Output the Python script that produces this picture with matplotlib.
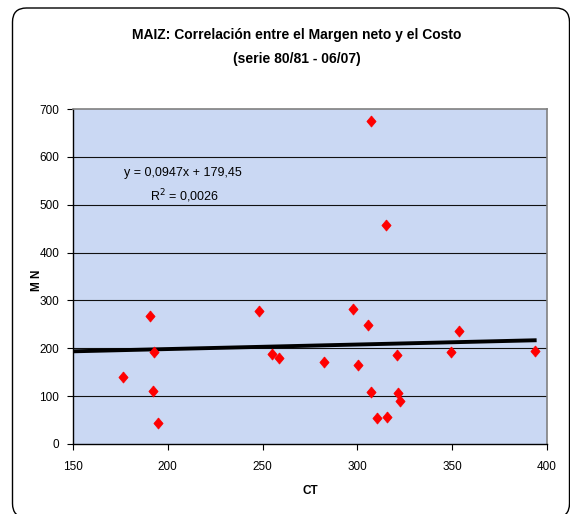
import numpy as np
import matplotlib
matplotlib.use('Agg')
import matplotlib.pyplot as plt
from matplotlib.patches import FancyBboxPatch

plt.rcParams['font.family'] = ['Liberation Sans', 'DejaVu Sans']

# costo total (CT) y margen neto (MN) por campaña
ct = [176.5, 190.6, 192.6, 192.4, 194.7, 247.9, 254.8, 258.5, 282.6, 297.7,
      305.6, 300.2, 320.7, 307.2, 321.6, 322.3, 310.3, 315.6, 349.5, 353.8,
      393.5, 307.0, 315.2]
mn = [139, 267, 193, 111, 43, 278, 188, 180, 172, 282,
      248, 166, 187, 108, 106, 90, 55, 56, 193, 237,
      195, 675, 457]

slope = 0.0947
intercept = 179.45
x_trend = np.array([150, max(ct)])

W, H = 570, 514
fig = plt.figure(figsize=(W / 100, H / 100), dpi=100)

# marco redondeado del grafico (en pulgadas)
frame = FancyBboxPatch((0.125, -0.035), 5.57, 5.095,
                       boxstyle='round,pad=0,rounding_size=0.14',
                       transform=fig.dpi_scale_trans, fill=False,
                       edgecolor='black', linewidth=1.0, clip_on=False)
fig.patches.append(frame)

ax = fig.add_axes([73 / W, (H - 444) / H, (547 - 73) / W, (444 - 109) / H])
ax.set_facecolor('#cad8f3')

ax.set_xlim(150, 400)
ax.set_ylim(0, 700)
ax.set_xticks(range(150, 401, 50))
ax.set_yticks(range(0, 701, 100))

for v in range(100, 700, 100):
    ax.axhline(v, color='#111111', linewidth=0.8, zorder=1)

ax.plot(x_trend, slope * x_trend + intercept, color='black', linewidth=2.8, zorder=2)
diamond = [(0, 1.2), (1, 0), (0, -1.2), (-1, 0), (0, 1.2)]
ax.plot(ct, mn, linestyle='none', marker=diamond, markersize=8,
        color='#ff0000', markeredgecolor='#ff0000', markeredgewidth=0.5, zorder=3)

for s in ['left', 'bottom']:
    ax.spines[s].set_color('black')
    ax.spines[s].set_linewidth(1.0)
for s in ['top', 'right']:
    ax.spines[s].set_color('#808080')
    ax.spines[s].set_linewidth(1.2)

ax.tick_params(axis='both', direction='out', length=4, width=0.8,
               labelsize=8.5, colors='black')
ax.tick_params(axis='x', pad=8)
ax.tick_params(axis='y', pad=6)

ax.set_xlabel('CT', fontsize=8.5, fontweight='bold', labelpad=9)
ax.text(-0.076, 0.49, 'M N', transform=ax.transAxes, rotation=90,
        fontsize=8.5, fontweight='bold', ha='center', va='center')

ax.text(0.232, 0.81, 'y = 0,0947x + 179,45', transform=ax.transAxes,
        fontsize=9, ha='center', va='center')
ax.text(0.235, 0.74, r'R$^2$ = 0,0026', transform=ax.transAxes,
        fontsize=9, ha='center', va='center')

fig.text(297 / W, 1 - 35 / H, 'MAIZ: Correlación entre el Margen neto y el Costo',
         fontsize=10, fontweight='bold', ha='center', va='center')
fig.text(297 / W, 1 - 59 / H, '(serie 80/81 - 06/07)',
         fontsize=10, fontweight='bold', ha='center', va='center')

fig.savefig('out.png', dpi=100, facecolor='white')
